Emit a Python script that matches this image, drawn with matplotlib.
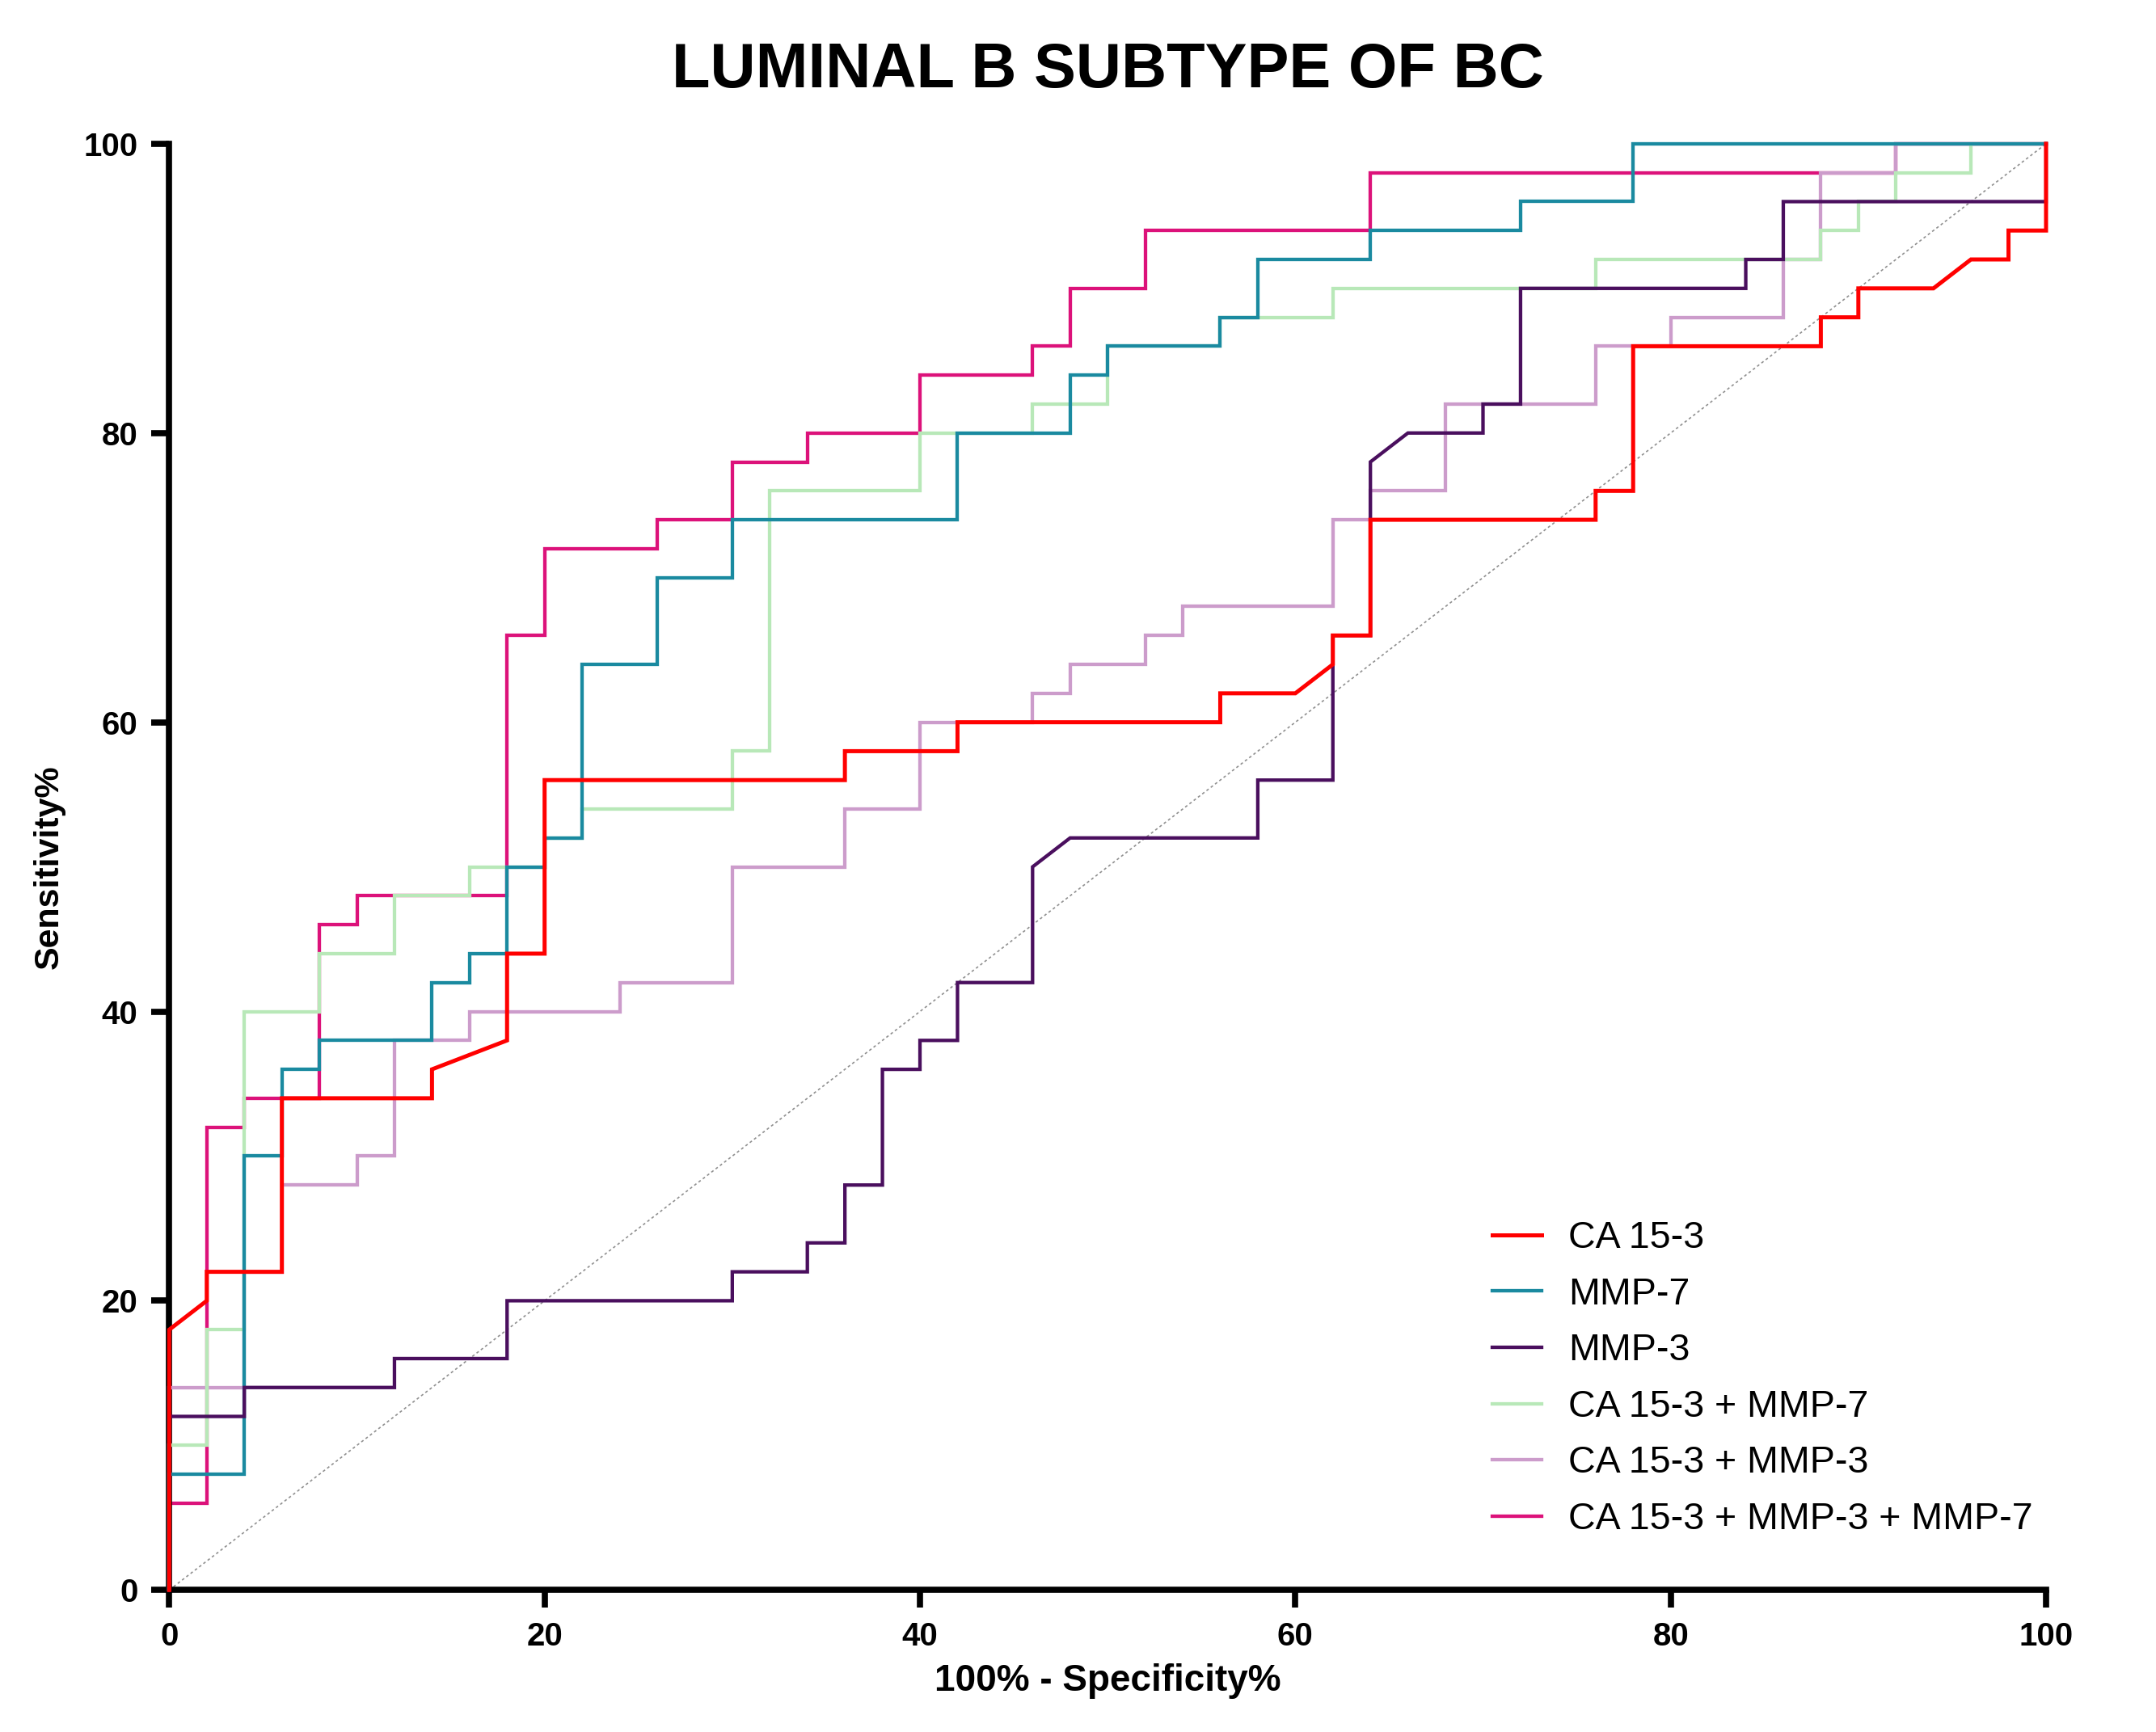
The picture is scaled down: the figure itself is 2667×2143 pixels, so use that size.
import matplotlib
matplotlib.use("Agg")
import matplotlib.pyplot as plt

plt.rcParams['font.family'] = ['Liberation Sans', 'DejaVu Sans']

# ROC curves: (100% - specificity, sensitivity) vertices
ca153_x = [0, 0, 2, 2, 6, 6, 14, 14, 18, 18, 20, 20, 36, 36, 42, 42, 56, 56, 60, 62, 62, 64, 64, 76, 76, 78, 78, 88, 88, 90, 90, 94, 96, 98, 98, 100, 100]
ca153_y = [0, 18, 20, 22, 22, 34, 34, 36, 38, 44, 44, 56, 56, 58, 58, 60, 60, 62, 62, 64, 66, 66, 74, 74, 76, 76, 86, 86, 88, 88, 90, 90, 92, 92, 94, 94, 100]

mmp7_x = [0, 0, 4, 4, 6, 6, 8, 8, 14, 14, 16, 16, 18, 18, 20, 20, 22, 22, 26, 26, 30, 30, 42, 42, 48, 48, 50, 50, 56, 56, 58, 58, 64, 64, 72, 72, 78, 78, 100]
mmp7_y = [0, 8, 8, 30, 30, 36, 36, 38, 38, 42, 42, 44, 44, 50, 50, 52, 52, 64, 64, 70, 70, 74, 74, 80, 80, 84, 84, 86, 86, 88, 88, 92, 92, 94, 94, 96, 96, 100, 100]

mmp3_x = [0, 0, 4, 4, 12, 12, 18, 18, 30, 30, 34, 34, 36, 36, 38, 38, 40, 40, 42, 42, 46, 46, 48, 58, 58, 62, 62, 64, 64, 66, 70, 70, 72, 72, 84, 84, 86, 86, 100, 100]
mmp3_y = [0, 12, 12, 14, 14, 16, 16, 20, 20, 22, 22, 24, 24, 28, 28, 36, 36, 38, 38, 42, 42, 50, 52, 52, 56, 56, 66, 66, 78, 80, 80, 82, 82, 90, 90, 92, 92, 96, 96, 100]

ca_mmp7_x = [0, 0, 2, 2, 4, 4, 8, 8, 12, 12, 16, 16, 20, 20, 22, 22, 30, 30, 32, 32, 40, 40, 46, 46, 50, 50, 56, 56, 62, 62, 76, 76, 88, 88, 90, 90, 92, 92, 96, 96, 100]
ca_mmp7_y = [0, 10, 10, 18, 18, 40, 40, 44, 44, 48, 48, 50, 50, 52, 52, 54, 54, 58, 58, 76, 76, 80, 80, 82, 82, 86, 86, 88, 88, 90, 90, 92, 92, 94, 94, 96, 96, 98, 98, 100, 100]

ca_mmp3_x = [0, 0, 4, 4, 6, 6, 10, 10, 12, 12, 16, 16, 24, 24, 30, 30, 36, 36, 40, 40, 46, 46, 48, 48, 52, 52, 54, 54, 62, 62, 64, 64, 68, 68, 76, 76, 80, 80, 86, 86, 88, 88, 92, 92, 100]
ca_mmp3_y = [0, 14, 14, 22, 22, 28, 28, 30, 30, 38, 38, 40, 40, 42, 42, 50, 50, 54, 54, 60, 60, 62, 62, 64, 64, 66, 66, 68, 68, 74, 74, 76, 76, 82, 82, 86, 86, 88, 88, 92, 92, 98, 98, 100, 100]

all3_x = [0, 0, 2, 2, 4, 4, 8, 8, 10, 10, 18, 18, 20, 20, 26, 26, 30, 30, 34, 34, 40, 40, 46, 46, 48, 48, 52, 52, 64, 64, 88, 92, 92, 100]
all3_y = [0, 6, 6, 32, 32, 34, 34, 46, 46, 48, 48, 66, 66, 72, 72, 74, 74, 78, 78, 80, 80, 84, 84, 86, 86, 90, 90, 94, 94, 98, 98, 98, 100, 100]

labels = ['CA 15-3', 'MMP-7', 'MMP-3', 'CA 15-3 + MMP-7', 'CA 15-3 + MMP-3', 'CA 15-3 + MMP-3 + MMP-7']
colors = ['#FF0000', '#1A8AA0', '#4A0F5E', '#B8E8B8', '#CC9CCB', '#DC127A']

fig = plt.figure(figsize=(26.67, 21.43), dpi=100)
ax = fig.add_axes([0.0785, 0.082, 0.8705, 0.835])

ax.plot([0, 100], [0, 100], color='#909090', lw=1.2, ls=(0, (2, 2)), zorder=1)

# stacking as in the original: magenta at the bottom, red on top
curves = [
    (all3_x, all3_y, 5, 3.1),
    (ca_mmp3_x, ca_mmp3_y, 4, 3.1),
    (ca_mmp7_x, ca_mmp7_y, 3, 3.1),
    (mmp7_x, mmp7_y, 1, 3.1),
    (mmp3_x, mmp3_y, 2, 3.1),
    (ca153_x, ca153_y, 0, 3.6),
]
handles = {}
for z, (xs, ys, i, lw) in enumerate(curves):
    ln, = ax.plot(xs, ys, color=colors[i], lw=lw, label=labels[i], zorder=2 + z,
                  solid_joinstyle='miter', clip_on=False)
    handles[i] = ln

ax.set_xlim(0, 100)
ax.set_ylim(0, 100)
ax.set_xticks([0, 20, 40, 60, 80, 100])
ax.set_yticks([0, 20, 40, 60, 80, 100])
for s in ['top', 'right']:
    ax.spines[s].set_visible(False)
for s in ['left', 'bottom']:
    ax.spines[s].set_linewidth(5.5)
ax.tick_params(axis='both', direction='out', length=16, width=5.5, labelsize=29, pad=12)
for t in ax.get_xticklabels() + ax.get_yticklabels():
    t.set_fontweight('bold')

ax.set_xlabel('100% - Specificity%', fontsize=33, fontweight='bold', labelpad=10)
ax.set_ylabel('Sensitivity%', fontsize=31, fontweight='bold', labelpad=16)
fig.suptitle('LUMINAL B SUBTYPE OF BC', fontsize=56, fontweight='bold', x=0.514, y=0.976)

leg = ax.legend([handles[i] for i in range(6)], labels, loc='center left',
                bbox_to_anchor=(0.695, 0.146), frameon=False, fontsize=33.5,
                handlelength=1.3, handletextpad=0.72, labelspacing=0.55, borderpad=0)

fig.savefig('out.png', dpi=100)
